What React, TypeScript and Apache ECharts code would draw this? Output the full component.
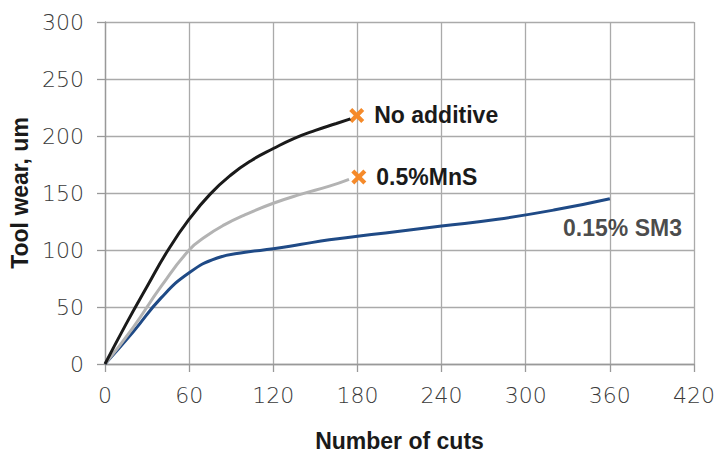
import React, { useEffect, useRef } from "react";
import * as echarts from "echarts";

const noAdditive: [number, number][] = [
  [0, 0], [15, 35], [30, 68], [45, 100], [60, 127], [75, 149], [90, 166],
  [105, 179], [120, 189], [135, 198], [150, 205], [165, 211], [175, 215],
];
const mns: [number, number][] = [
  [0, 0], [20, 32], [40, 68], [60, 100], [72, 112], [85, 122], [100, 131],
  [120, 141], [140, 149], [160, 156], [174, 162],
];
const sm3: [number, number][] = [
  [0, 0], [20, 28], [40, 58], [60, 80], [80, 93], [100, 98], [120, 101],
  [140, 105], [160, 109], [180, 112], [200, 115], [240, 121], [280, 127],
  [320, 135], [360, 145],
];
const markers: { name: string; value: [number, number] }[] = [
  { name: "No additive", value: [179.5, 218] },
  { name: "0.5%MnS", value: [181, 164] },
];
const sm3Label = { name: "0.15% SM3", value: [369, 119] as [number, number] };

const xTicks = [0, 60, 120, 180, 240, 300, 360, 420];

const BOLD_FONT = "Liberation Sans, Arial, sans-serif";
const TICK_FONT = "DejaVu Sans, sans-serif";
const X_PATH = "path://M0,2 L2,0 L5,3 L8,0 L10,2 L7,5 L10,8 L8,10 L5,7 L2,10 L0,8 L3,5 Z";

export default function App() {
  const ref = useRef<HTMLDivElement>(null);
  useEffect(() => {
    const chart = echarts.init(ref.current!, undefined, { renderer: "svg" });
    const lineBase = {
      type: "line",
      smooth: 0.5,
      showSymbol: false,
      symbol: "none",
    };
    const boldText = { fontFamily: BOLD_FONT, fontWeight: "bold", fontSize: 23, color: "#1a1a1a" };
    chart.setOption({
      animation: false,
      grid: { left: 103, right: 24, top: 22, bottom: 87, containLabel: false },
      xAxis: {
        type: "value",
        min: xTicks[0],
        max: xTicks[xTicks.length - 1],
        interval: 60,
        name: "Number of cuts",
        nameLocation: "middle",
        nameGap: 65,
        nameTextStyle: boldText,
        axisLine: { show: true, lineStyle: { color: "#999", width: 1.3 } },
        axisTick: { show: true, length: 8, lineStyle: { color: "#999", width: 1.3 } },
        axisLabel: { fontFamily: TICK_FONT, fontWeight: 200, fontSize: 22, color: "#3a3a3a", margin: 20 },
        splitLine: { show: true, lineStyle: { color: "#aaa", width: 1.3 } },
      },
      yAxis: {
        type: "value",
        min: 0,
        max: 300,
        interval: 50,
        name: "Tool wear, um",
        nameLocation: "middle",
        nameGap: 74,
        nameTextStyle: boldText,
        axisLine: { show: true, lineStyle: { color: "#999", width: 1.3 } },
        axisTick: { show: true, length: 8, lineStyle: { color: "#999", width: 1.3 } },
        axisLabel: { fontFamily: TICK_FONT, fontWeight: 200, fontSize: 22, color: "#3a3a3a", margin: 21 },
        splitLine: { show: true, lineStyle: { color: "#aaa", width: 1.3 } },
      },
      series: [
        { ...lineBase, name: "0.15% SM3", data: sm3, lineStyle: { color: "#1f4a86", width: 3 } },
        { ...lineBase, name: "0.5%MnS", data: mns, lineStyle: { color: "#b3b3b3", width: 3 } },
        { ...lineBase, name: "No additive", data: noAdditive, lineStyle: { color: "#1a1a1a", width: 3 } },
        {
          type: "scatter",
          data: markers,
          symbol: X_PATH,
          symbolSize: 15,
          itemStyle: { color: "#f58a2a", opacity: 1 },
          label: {
            show: true,
            position: "right",
            distance: 10,
            formatter: (p: any) => p.name,
            ...boldText,
          },
        },
        {
          type: "scatter",
          data: [sm3Label],
          symbol: "circle",
          symbolSize: 1,
          itemStyle: { color: "rgba(0,0,0,0)" },
          label: {
            show: true,
            position: "inside",
            formatter: (p: any) => p.name,
            ...boldText,
          },
        },
      ],
    });
    return () => chart.dispose();
  }, []);
  return (
    <div
      ref={ref}
      style={{ position: "absolute", left: 0, top: 0, width: 718, height: 457 }}
    />
  );
}
